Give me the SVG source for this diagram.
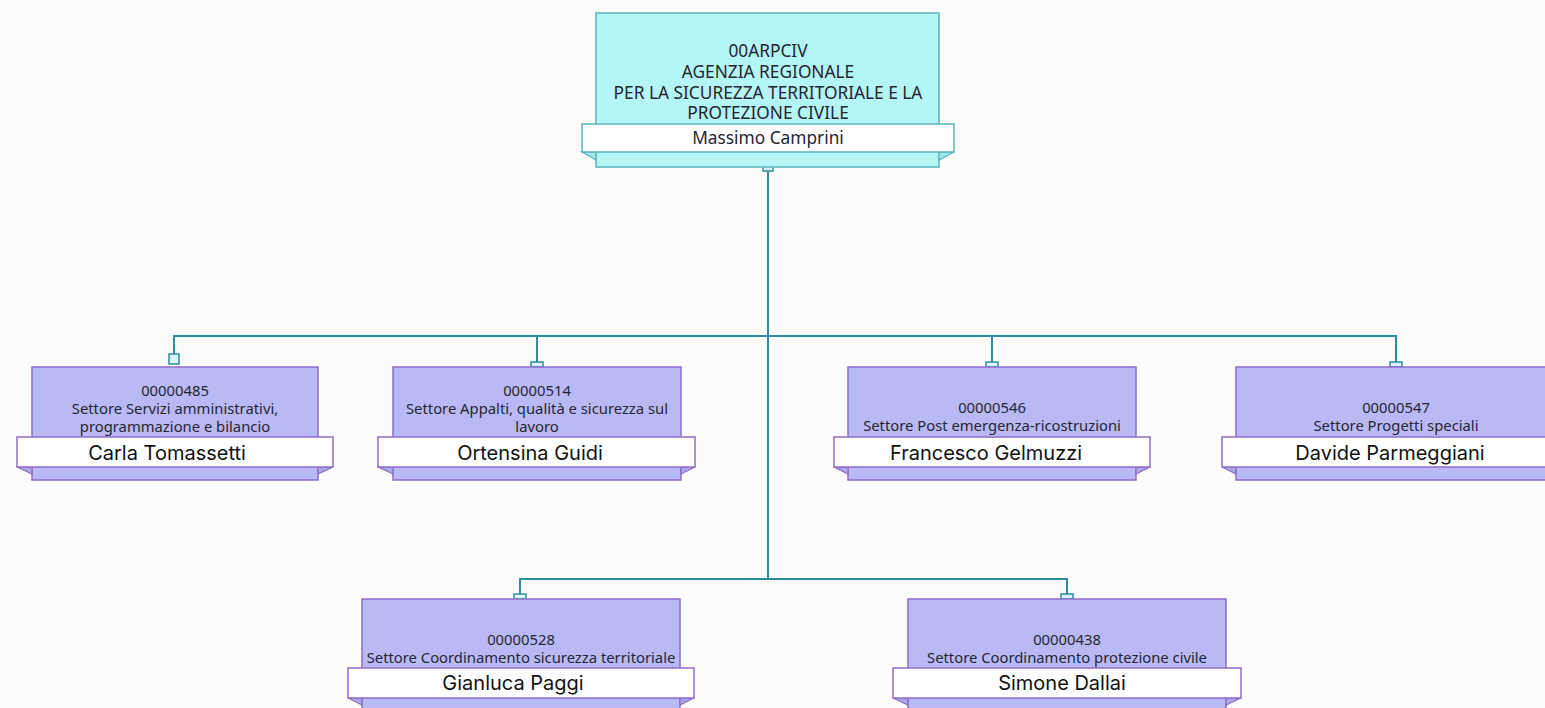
<svg xmlns="http://www.w3.org/2000/svg" width="1545" height="708" viewBox="0 0 1545 708">
<style>
.bg{fill:#fcfcfc}
.box{fill:#b9b9f5;stroke:#8f6dc6;stroke-width:1.5}
.boxtop{fill:#b4f5f5;stroke:#5cb3bd;stroke-width:1.5}
.ban{fill:#ffffff;stroke:#8f6dc6;stroke-width:1.5}
.bantop{fill:#ffffff;stroke:#5cb3bd;stroke-width:1.5}
.flap{fill:#a9a8e6;stroke:#8f6dc6;stroke-width:1.2}
.flaptop{fill:#a2e6e8;stroke:#5cb3bd;stroke-width:1.2}
.con{fill:none;stroke:#2f8d9e;stroke-width:2}
.tab{fill:#d8f4f6;stroke:#2f8d9e;stroke-width:1.5}
.t{font-family:"Noto Sans","Liberation Sans",sans-serif;font-size:14.8px;fill:#262633;text-anchor:middle}
.tt{font-family:"Noto Sans","Liberation Sans",sans-serif;font-size:17.3px;fill:#262633;text-anchor:middle}
.n{font-family:Inter,"Liberation Sans",sans-serif;font-size:20px;fill:#111;text-anchor:middle}
</style>
<rect class="bg" x="0" y="0" width="1545" height="708"/>

<g id="connectors">
<path class="con" d="M768 171 V579"/>
<path class="con" d="M174 354 V336 H1396 V362"/>
<path class="con" d="M537 336 V362"/>
<path class="con" d="M992 336 V362"/>
<path class="con" d="M520 594 V579 H1067 V594"/>
<rect class="tab" x="763" y="166" width="10" height="5"/>
<rect class="tab" x="169" y="354" width="10" height="10"/>
<rect class="tab" x="531" y="362" width="12" height="5"/>
<rect class="tab" x="986" y="362" width="12" height="5"/>
<rect class="tab" x="1390" y="362" width="12" height="5"/>
<rect class="tab" x="514" y="594" width="12" height="5"/>
<rect class="tab" x="1061" y="594" width="12" height="5"/>
</g>

<g id="n-00ARPCIV">
<rect class="boxtop" x="596" y="13" width="343" height="154"/>
<polygon class="flaptop" points="582,152 596,152 596,160"/>
<polygon class="flaptop" points="954,152 939,152 939,160"/>
<rect class="bantop" x="582" y="124" width="372" height="28"/>
<text class="tt" x="768" y="57">00ARPCIV</text>
<text class="tt" x="768" y="78">AGENZIA REGIONALE</text>
<text class="tt" x="768" y="99">PER LA SICUREZZA TERRITORIALE E LA</text>
<text class="tt" x="768" y="119">PROTEZIONE CIVILE</text>
<text class="tt" x="768" y="144">Massimo Camprini</text>
</g>

<g id="n-00000485">
<rect class="box" x="32" y="367" width="286" height="113"/>
<polygon class="flap" points="17,467 32,467 32,474"/>
<polygon class="flap" points="333,467 318,467 318,474"/>
<rect class="ban" x="17" y="437" width="316" height="30"/>
<text class="t" x="175" y="396">00000485</text>
<text class="t" x="175" y="414">Settore Servizi amministrativi,</text>
<text class="t" x="175" y="432">programmazione e bilancio</text>
<text class="n" x="167" y="460">Carla Tomassetti</text>
</g>

<g id="n-00000514">
<rect class="box" x="393" y="367" width="288" height="113"/>
<polygon class="flap" points="378,467 393,467 393,474"/>
<polygon class="flap" points="695,467 681,467 681,474"/>
<rect class="ban" x="378" y="437" width="317" height="30"/>
<text class="t" x="537" y="396">00000514</text>
<text class="t" x="537" y="414">Settore Appalti, qualità e sicurezza sul</text>
<text class="t" x="537" y="432">lavoro</text>
<text class="n" x="530" y="460">Ortensina Guidi</text>
</g>

<g id="n-00000546">
<rect class="box" x="848" y="367" width="288" height="113"/>
<polygon class="flap" points="834,467 848,467 848,474"/>
<polygon class="flap" points="1150,467 1136,467 1136,474"/>
<rect class="ban" x="834" y="437" width="316" height="30"/>
<text class="t" x="992" y="413">00000546</text>
<text class="t" x="992" y="431">Settore Post emergenza-ricostruzioni</text>
<text class="n" x="986" y="460">Francesco Gelmuzzi</text>
</g>

<g id="n-00000547">
<rect class="box" x="1236" y="367" width="320" height="113"/>
<polygon class="flap" points="1222,467 1236,467 1236,474"/>
<rect class="ban" x="1222" y="437" width="340" height="30"/>
<text class="t" x="1396" y="413">00000547</text>
<text class="t" x="1396" y="431">Settore Progetti speciali</text>
<text class="n" x="1390" y="460">Davide Parmeggiani</text>
</g>

<g id="n-00000528">
<rect class="box" x="362" y="599" width="318" height="130"/>
<polygon class="flap" points="348,698 362,698 362,705"/>
<polygon class="flap" points="694,698 680,698 680,705"/>
<rect class="ban" x="348" y="668" width="346" height="30"/>
<text class="t" x="521" y="645">00000528</text>
<text class="t" x="521" y="663">Settore Coordinamento sicurezza territoriale</text>
<text class="n" x="513" y="690">Gianluca Paggi</text>
</g>

<g id="n-00000438">
<rect class="box" x="908" y="599" width="318" height="130"/>
<polygon class="flap" points="893,698 908,698 908,705"/>
<polygon class="flap" points="1241,698 1226,698 1226,705"/>
<rect class="ban" x="893" y="668" width="348" height="30"/>
<text class="t" x="1067" y="645">00000438</text>
<text class="t" x="1067" y="663">Settore Coordinamento protezione civile</text>
<text class="n" x="1062" y="690">Simone Dallai</text>
</g>
</svg>
